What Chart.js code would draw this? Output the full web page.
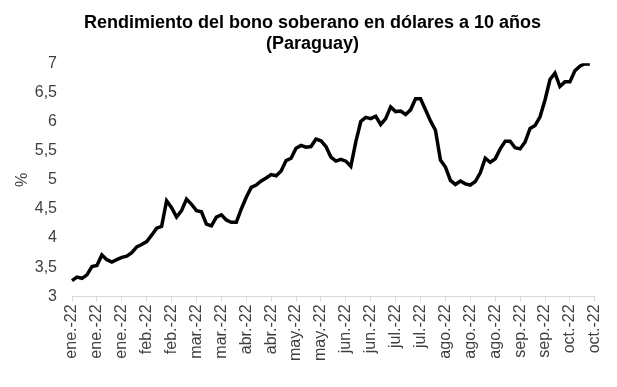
<!DOCTYPE html>
<html lang="es">
<head>
  <meta charset="UTF-8" />
  <title>Rendimiento bono Paraguay</title>
  <style>
    html, body { margin: 0; padding: 0; background: #fff; }
    .chart-wrapper { width: 617px; height: 387px; }
  </style>
</head>
<body>
  <div class="chart-wrapper">
    <canvas id="myChart" width="617" height="387"></canvas>
  </div>
  <script src="https://cdn.jsdelivr.net/npm/chart.js"></script>
  <script>
    // etiquetas del eje x (una cada 5 observaciones)
    const tickLabels = ['ene.-22', 'ene.-22', 'ene.-22', 'feb.-22', 'feb.-22', 'mar.-22', 'mar.-22',
      'abr.-22', 'abr.-22', 'may.-22', 'may.-22', 'jun.-22', 'jun.-22', 'jul.-22', 'jul.-22',
      'ago.-22', 'ago.-22', 'ago.-22', 'sep.-22', 'sep.-22', 'oct.-22', 'oct.-22'];
    const step = 5;

    // rendimiento (%)
    const yields = [
      3.27, 3.33, 3.31, 3.37, 3.51, 3.53, 3.71, 3.63, 3.59, 3.63,
      3.67, 3.69, 3.75, 3.85, 3.89, 3.94, 4.05, 4.17, 4.20, 4.64,
      4.52, 4.36, 4.47, 4.67, 4.58, 4.47, 4.45, 4.24, 4.21, 4.36,
      4.40, 4.31, 4.27, 4.27, 4.50, 4.70, 4.87, 4.91, 4.98, 5.03,
      5.09, 5.07, 5.15, 5.33, 5.37, 5.54, 5.59, 5.56, 5.57, 5.70,
      5.67, 5.57, 5.39, 5.32, 5.35, 5.32, 5.23, 5.65, 6.00, 6.07,
      6.05, 6.09, 5.95, 6.05, 6.25, 6.17, 6.18, 6.12, 6.20, 6.39,
      6.39, 6.20, 6.01, 5.85, 5.34, 5.22, 4.99, 4.92, 4.98, 4.93,
      4.91, 4.97, 5.12, 5.37, 5.30, 5.36, 5.53, 5.66, 5.66, 5.55,
      5.53, 5.65, 5.88, 5.93, 6.08, 6.37, 6.72, 6.83, 6.60, 6.68,
      6.68, 6.87, 6.95, 6.99, 6.98
    ];

    const labels = [];
    for (let i = 0; i <= (tickLabels.length - 1) * step; i++) {
      labels.push(i % step === 0 ? tickLabels[i / step] : '');
    }

    const font = "'Liberation Sans', Arial, sans-serif";
    const ctx = document.getElementById('myChart').getContext('2d');
    new Chart(ctx, {
      type: 'line',
      data: {
        labels: labels,
        datasets: [{
          data: yields,
          borderColor: '#000',
          borderWidth: 3.5,
          pointRadius: 0,
          tension: 0,
          fill: false
        }]
      },
      options: {
        responsive: false,
        animation: false,
        layout: { padding: { top: 2, right: 5, bottom: 23, left: 13 } },
        plugins: {
          legend: { display: false },
          tooltip: { enabled: false },
          title: {
            display: true,
            text: ['Rendimiento del bono soberano en dólares a 10 años', '(Paraguay)'],
            color: '#000',
            font: { family: font, size: 18, weight: 'bold', lineHeight: 1.2 },
            padding: { top: 10, bottom: 8 }
          }
        },
        scales: {
          x: {
            offset: false,
            border: { display: true, color: '#d9d9d9' },
            grid: {
              drawOnChartArea: false,
              tickLength: 5,
              color: c => (c.index % step === 0 ? '#d9d9d9' : 'transparent')
            },
            ticks: {
              autoSkip: false,
              maxRotation: 90,
              minRotation: 90,
              color: '#404040',
              padding: 3,
              font: { family: font, size: 16 }
            }
          },
          y: {
            min: 3,
            max: 7,
            border: { display: false },
            grid: { display: false, drawTicks: false },
            afterFit: s => { s.width = 59; },
            ticks: {
              stepSize: 0.5,
              color: '#404040',
              padding: 15,
              font: { family: font, size: 16 },
              callback: v => String(v).replace('.', ',')
            },
            title: {
              display: true,
              text: '%',
              color: '#404040',
              font: { family: font, size: 16 },
              padding: { top: 0, bottom: 0 }
            }
          }
        }
      }
    });
  </script>
</body>
</html>
